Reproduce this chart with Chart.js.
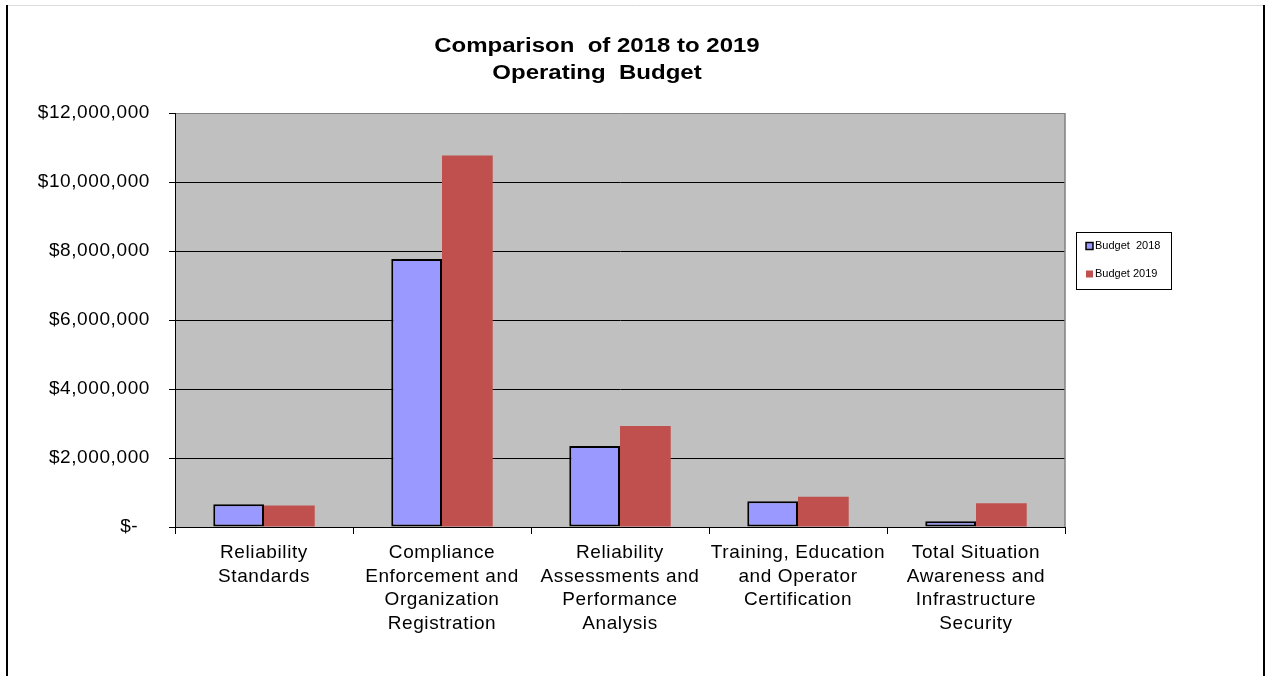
<!DOCTYPE html>
<html>
<head>
<meta charset="utf-8">
<title>Comparison of 2018 to 2019 Operating Budget</title>
<script src="https://cdn.jsdelivr.net/npm/chart.js@4.4.1/dist/chart.umd.min.js"></script>
<style>
  html, body { margin: 0; padding: 0; background: #fff; }
  #wrap { width: 1266px; height: 676px; position: relative; }
</style>
</head>
<body>
<div id="wrap"><canvas id="budgetChart" width="1266" height="676"></canvas></div>
<script>
const categories = [
    ['Reliability', 'Standards'],
    ['Compliance', 'Enforcement and', 'Organization', 'Registration'],
    ['Reliability', 'Assessments and', 'Performance', 'Analysis'],
    ['Training, Education', 'and Operator', 'Certification'],
    ['Total Situation', 'Awareness and', 'Infrastructure', 'Security']
];
const budget2018 = [660000, 7770000, 2350000, 750000, 165000];
const budget2019 = [620000, 10770000, 2930000, 880000, 690000];
const seriesNames = ['Budget  2018', 'Budget 2019'];
const titleLines = ['Comparison  of 2018 to 2019', 'Operating  Budget'];
const yTicks = [0, 2000000, 4000000, 6000000, 8000000, 10000000, 12000000];

Chart.defaults.font.family = '"Liberation Sans", Arial, sans-serif';
Chart.defaults.color = '#000';

// page frame, gray plot area, title and boxed legend
const decorations = {
    id: 'decorations',
    beforeDraw(chart) {
        const ctx = chart.ctx;
        const a = chart.chartArea;
        ctx.save();
        ctx.fillStyle = '#fff';
        ctx.fillRect(0, 0, chart.width, chart.height);
        ctx.fillStyle = '#c0c0c0';
        ctx.fillRect(a.left, a.top, a.right - a.left, a.bottom - a.top);
        ctx.restore();
        // slightly wider tick text
        ctx.letterSpacing = '0.6px';
    },
    afterDraw(chart) {
        const ctx = chart.ctx;
        const a = chart.chartArea;
        ctx.save();
        ctx.letterSpacing = '0px';

        // plot area right edge
        ctx.strokeStyle = '#808080';
        ctx.lineWidth = 1.5;
        ctx.beginPath();
        ctx.moveTo(a.right, a.top);
        ctx.lineTo(a.right, a.bottom);
        ctx.stroke();

        // outer frame
        ctx.strokeStyle = '#dcdcdc';
        ctx.lineWidth = 1;
        ctx.beginPath();
        ctx.moveTo(7, 5.5);
        ctx.lineTo(1264, 5.5);
        ctx.stroke();
        ctx.strokeStyle = '#000';
        ctx.lineWidth = 2;
        ctx.beginPath();
        ctx.moveTo(7, 5);
        ctx.lineTo(7, chart.height);
        ctx.moveTo(1264, 5);
        ctx.lineTo(1264, chart.height);
        ctx.stroke();

        // title, stretched horizontally
        ctx.save();
        ctx.translate(597, 0);
        ctx.scale(1.2, 1);
        ctx.fillStyle = '#000';
        ctx.font = 'bold 20px "Liberation Sans", Arial, sans-serif';
        ctx.textAlign = 'center';
        ctx.textBaseline = 'alphabetic';
        titleLines.forEach((t, i) => ctx.fillText(t, 0, 52 + i * 27));
        ctx.restore();

        // legend
        const lx = 1076, ly = 232, lw = 95, lh = 57;
        ctx.fillStyle = '#fff';
        ctx.fillRect(lx, ly, lw, lh);
        ctx.strokeStyle = '#000';
        ctx.lineWidth = 1;
        ctx.strokeRect(lx + 0.5, ly + 0.5, lw, lh);
        ctx.font = '11px "Liberation Sans", Arial, sans-serif';
        ctx.textAlign = 'left';
        ctx.textBaseline = 'middle';
        chart.data.datasets.forEach((ds, i) => {
            const cy = 246 + i * 28;
            ctx.fillStyle = ds.backgroundColor;
            ctx.fillRect(1086, cy - 3.5, 7, 7);
            if (ds.borderWidth) {
                ctx.strokeStyle = '#000';
                ctx.lineWidth = 1.5;
                ctx.strokeRect(1086, cy - 3.5, 7, 7);
            }
            ctx.fillStyle = '#000';
            ctx.fillText(ds.label, 1095, cy);
        });
        ctx.restore();
    }
};

new Chart(document.getElementById('budgetChart').getContext('2d'), {
    type: 'bar',
    data: {
        labels: categories,
        datasets: [{
            label: seriesNames[0],
            data: budget2018,
            backgroundColor: '#9999ff',
            borderColor: '#000',
            borderWidth: 2,
            borderSkipped: false
        }, {
            label: seriesNames[1],
            data: budget2019,
            backgroundColor: '#c0504d',
            borderWidth: 0
        }]
    },
    options: {
        responsive: false,
        animation: false,
        devicePixelRatio: 1,
        categoryPercentage: 0.57,
        barPercentage: 1,
        layout: { padding: { top: 113, right: 201, left: 0, bottom: 0 } },
        plugins: {
            legend: { display: false },
            title: { display: false },
            tooltip: { enabled: false }
        },
        scales: {
            x: {
                grid: {
                    offset: true,
                    drawOnChartArea: false,
                    color: '#000',
                    tickLength: 7
                },
                border: { color: '#000', width: 1 },
                ticks: {
                    font: { size: 19, lineHeight: 1.24 },
                    padding: 7,
                    maxRotation: 0,
                    autoSkip: false
                },
                afterFit(scale) { scale.height = 149; }
            },
            y: {
                min: 0,
                max: 12000000,
                afterBuildTicks(scale) { scale.ticks = yTicks.map(v => ({ value: v })); },
                grid: {
                    color: ctx => ctx.tick && ctx.tick.value === 12000000 ? '#808080' : '#000',
                    tickColor: '#000',
                    tickLength: 6,
                    lineWidth: 1
                },
                border: { color: '#000', width: 1 },
                ticks: {
                    font: { size: 19 },
                    padding: 19,
                    callback: v => v === 0 ? '$-  ' : '$' + v.toLocaleString('en-US')
                },
                afterFit(scale) { scale.width = 175; }
            }
        }
    },
    plugins: [decorations]
});
</script>
</body>
</html>
